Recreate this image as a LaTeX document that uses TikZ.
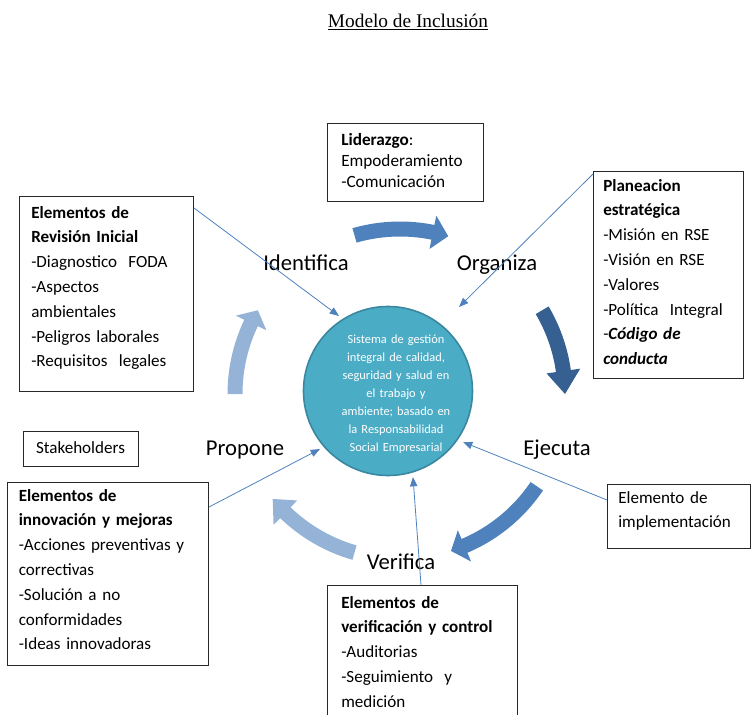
\documentclass[tikz,border=0pt]{standalone}
\usepackage{fontspec}
\setmainfont{Carlito}
\newfontfamily\titlefont{Liberation Serif}
\usetikzlibrary{arrows.meta}
\definecolor{midblue}{RGB}{79,129,189}
\definecolor{darkblue}{RGB}{55,96,146}
\definecolor{lightblue}{RGB}{149,179,215}
\definecolor{circfill}{RGB}{75,172,198}
\definecolor{circedge}{RGB}{58,135,160}
\definecolor{linkblue}{RGB}{79,129,189}
\definecolor{boxline}{RGB}{40,40,40}
\def\BAcx{400}\def\BAcy{394}\def\BArr{165}\def\BAbw{7.5}\def\BAhw{17}
\newcommand\blockarrow[4]{%
  \fill[#1] plot[domain=#2:#3, samples=30] ({\BAcx+(\BArr+\BAbw)*cos(\x)},{\BAcy-(\BArr+\BAbw)*sin(\x)})
   -- ({\BAcx+(\BArr+\BAhw)*cos(#3)},{\BAcy-(\BArr+\BAhw)*sin(#3)})
   -- ({\BAcx+\BArr*cos(#4)},{\BAcy-\BArr*sin(#4)})
   -- ({\BAcx+(\BArr-\BAhw)*cos(#3)},{\BAcy-(\BArr-\BAhw)*sin(#3)})
   -- plot[domain=#3:#2, samples=30] ({\BAcx+(\BArr-\BAbw)*cos(\x)},{\BAcy-(\BArr-\BAbw)*sin(\x)})
   -- cycle;}
\tikzset{
  boxframe/.style={draw=boxline, line width=0.75pt, inner sep=0pt, anchor=north west},
  boxtext/.style={inner sep=0pt, anchor=base west, align=left, text width=#1,
    font=\fontsize{12.8}{18.6}\selectfont},
  phase/.style={inner sep=0pt, anchor=base, font=\fontsize{17}{20}\selectfont},
  link/.style={draw=linkblue, line width=0.6pt, -{Triangle[length=7pt,width=5.5pt]}},
}
\begin{document}
\begin{tikzpicture}[x=0.75pt,y=-0.75pt]
\useasboundingbox (0,0) rectangle (751,715);
% title
\node[inner sep=0pt, anchor=base, font=\titlefont\fontsize{14.5}{17}\selectfont] (title) at (408,27) {\underline{Modelo de Inclusión}};
% block arrows
\blockarrow{midblue}{106}{78.5}{73}
\blockarrow{darkblue}{30.5}{8}{0}
\blockarrow{midblue}{-34}{-67}{-72}
\blockarrow{lightblue}{-106}{-134}{-140.5}
\blockarrow{lightblue}{180}{154.5}{149.5}
% circle
\node[circle, fill=circfill, draw=circedge, line width=1.2pt, minimum size=126.75pt, inner sep=0pt] (circ) at (388,391) {};
\node[inner sep=0pt, align=center, text width=110pt, text=white, font=\fontsize{9.3}{13.5}\selectfont] (circt) at (396,394)
 {Sistema de gestión\\ integral de calidad,\\ seguridad y salud en\\ el trabajo y\\ ambiente; basado en\\ la Responsabilidad\\ Social Empresarial};
% phase labels
\node[phase] (identifica) at (306,270) {Identifica};
\node[phase] (organiza) at (497,270) {Organiza};
\node[phase] (ejecuta) at (557,455) {Ejecuta};
\node[phase] (verifica) at (401,569) {Verifica};
\node[phase] (propone) at (245,455) {Propone};
% boxes
\node[boxframe, minimum width=117pt, minimum height=58.5pt] (lid) at (327,123) {};
\node[boxtext=110pt, font=\fontsize{12.9}{15.75}\selectfont] (lidt) at (341,145)
 {\textbf{Liderazgo}:\\ Empoderamiento\\ -Comunicación};
\node[boxframe, minimum width=112.5pt, minimum height=155.25pt] (plan) at (593,171) {};
\node[boxtext=110pt] (plant) at (603,191)
 {\textbf{Planeacion}\\ \textbf{estratégica}\\ -Misión en RSE\\ -Visión en RSE\\ -Valores\\ -Política\ \ Integral\\ -\textbf{\textit{Código de}}\\ \textbf{\textit{conducta}}};
\node[boxframe, minimum width=130.5pt, minimum height=146.25pt] (rev) at (19,196) {};
\node[boxtext=125pt] (revt) at (31,218)
 {\textbf{Elementos de}\\ \textbf{Revisión Inicial}\\ -Diagnostico\ \ FODA\\ -Aspectos\\ ambientales\\ -Peligros laborales\\ -Requisitos\ \ legales};
\node[boxframe, minimum width=86.25pt, minimum height=26.25pt] (stk) at (23,431) {};
\node[inner sep=0pt, anchor=base, font=\fontsize{12.8}{18.6}\selectfont] (stkt) at (80.5,453) {Stakeholders};
\node[boxframe, minimum width=150.75pt, minimum height=137.25pt] (inn) at (7,482) {};
\node[boxtext=145pt] (innt) at (18.5,501)
 {\textbf{Elementos de}\\ \textbf{innovación y mejoras}\\ -Acciones preventivas y\\ correctivas\\ -Solución a no\\ conformidades\\ -Ideas innovadoras};
\node[boxframe, minimum width=107.25pt, minimum height=48pt] (imp) at (607,484) {};
\node[boxtext=100pt] (impt) at (618,503) {Elemento de\\ implementación};
\node[boxframe, minimum width=142.5pt, minimum height=105pt] (ver) at (327,585) {};
\node[boxtext=140pt] (vert) at (341,608)
 {\textbf{Elementos de}\\ \textbf{verificación y control}\\ -Auditorias\\ -Seguimiento\ \ y\\ medición};
% connector tips
\coordinate (tip1) at (339,316);
\coordinate (tip2) at (459,307);
\coordinate (tip3) at (463,442);
\coordinate (tip4) at (413,477);
\coordinate (tip5) at (320,449);
\draw[link] ([yshift=-9pt]rev.north east) -- (tip1);
\draw[link] ([yshift=-2.25pt]plan.north west) -- (tip2);
\draw[link] ([yshift=-12pt]imp.north west) -- (tip3);
\draw[link] ([xshift=70.5pt]ver.north west) -- (tip4);
\draw[link] ([yshift=-18.75pt]inn.north east) -- (tip5);
\end{tikzpicture}
\end{document}
